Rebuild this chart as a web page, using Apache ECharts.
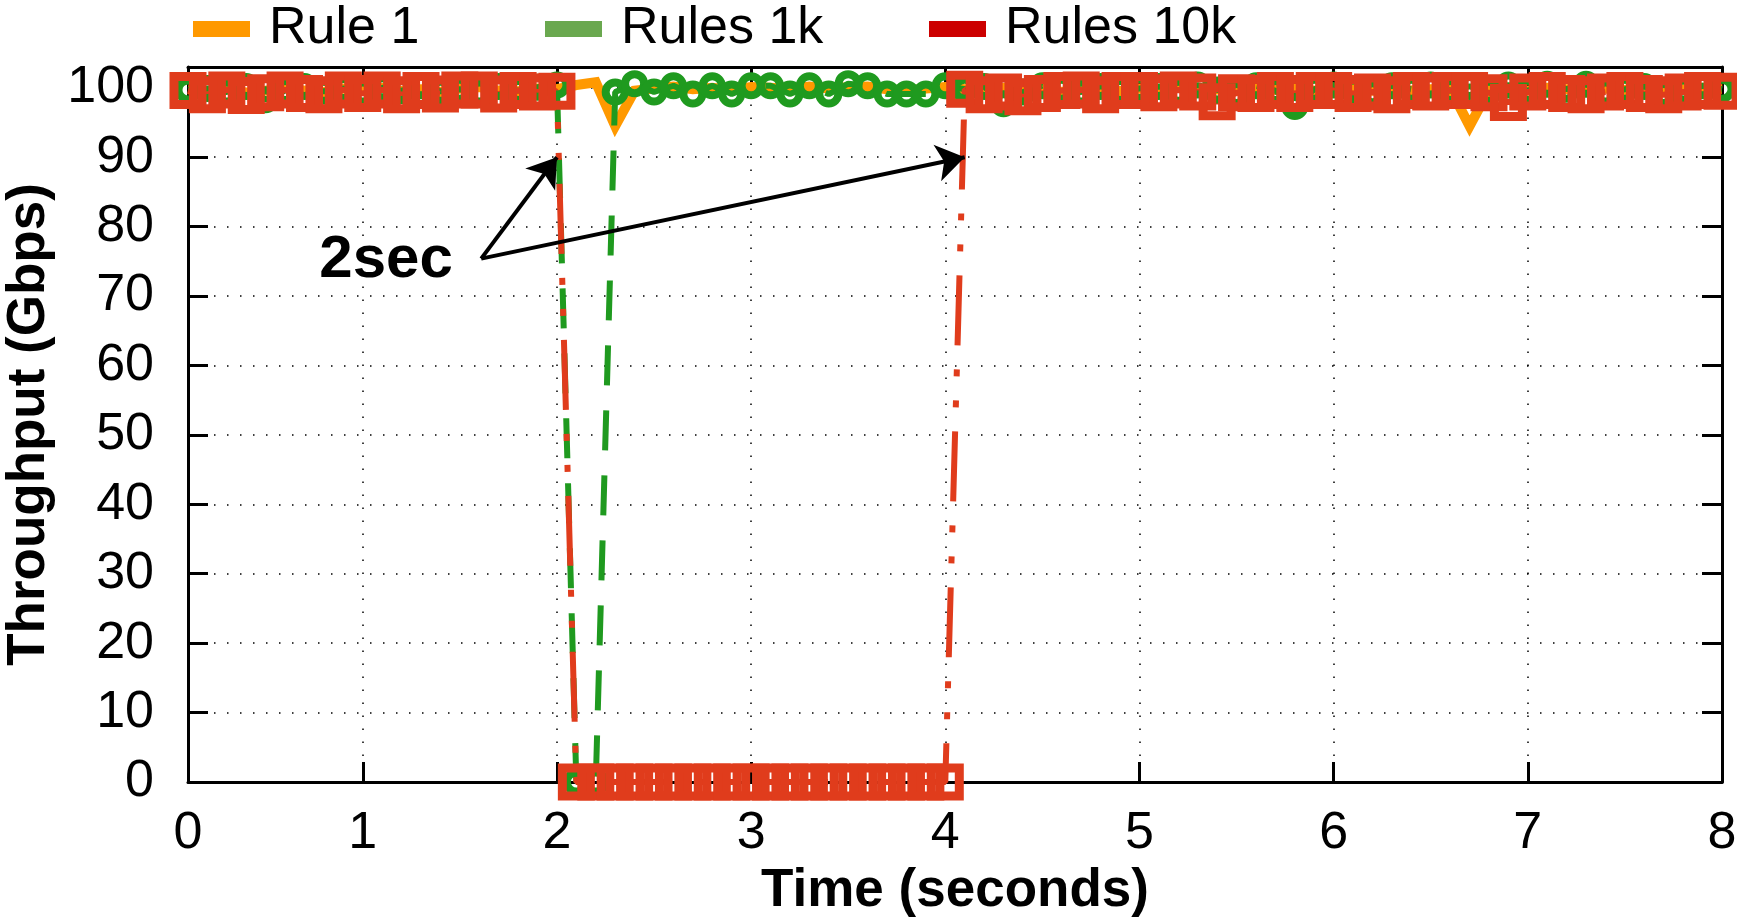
<!DOCTYPE html>
<html>
<head>
<meta charset="utf-8">
<title>Throughput during rule update</title>
<script src="https://cdn.jsdelivr.net/npm/echarts@6/dist/echarts.min.js"></script>
<style>
  html, body { margin: 0; padding: 0; background: #ffffff; }
  #chart { width: 1737px; height: 919px; }
</style>
</head>
<body>
<div id="chart"></div>
<script>
// Sample times (seconds), one sample every 100 ms
const times = [
  0.1, 0.2, 0.3, 0.4, 0.5, 0.6, 0.7, 0.8, 0.9, 1.0,
  1.1, 1.2, 1.3, 1.4, 1.5, 1.6, 1.7, 1.8, 1.9, 2.0,
  2.1, 2.2, 2.3, 2.4, 2.5, 2.6, 2.7, 2.8, 2.9, 3.0,
  3.1, 3.2, 3.3, 3.4, 3.5, 3.6, 3.7, 3.8, 3.9, 4.0,
  4.1, 4.2, 4.3, 4.4, 4.5, 4.6, 4.7, 4.8, 4.9, 5.0,
  5.1, 5.2, 5.3, 5.4, 5.5, 5.6, 5.7, 5.8, 5.9, 6.0,
  6.1, 6.2, 6.3, 6.4, 6.5, 6.6, 6.7, 6.8, 6.9, 7.0,
  7.1, 7.2, 7.3, 7.4, 7.5, 7.6, 7.7, 7.8, 7.9, 8.0
];

// Throughput (Gbps) with 1 rule installed
const rule1 = [
  99.8, 99.5, 99.9, 99.3, 99.6, 100.0, 99.6, 99.4, 99.9, 99.6,
  100.0, 99.5, 99.8, 99.4, 99.9, 100.1, 99.6, 99.5, 99.9, 99.8,
  100.4, 100.8, 94.5, 99.6, 99.9, 100.2, 99.8, 100.0, 99.7, 100.1,
  100.0, 99.8, 100.2, 99.9, 100.1, 100.2, 99.8, 99.6, 99.9, 100.1,
  99.8, 99.5, 100.0, 99.7, 99.9, 99.4, 99.8, 100.0, 99.5, 99.9,
  99.7, 100.0, 99.6, 99.8, 99.5, 100.0, 99.7, 99.9, 99.6, 99.9,
  100.1, 99.6, 99.9, 99.6, 99.8, 99.9, 94.5, 99.7, 99.9, 99.6,
  100.0, 99.8, 99.5, 99.9, 99.7, 100.0, 99.6, 99.8, 100.0, 99.8
];

// Throughput (Gbps) with 1k rules installed
const rules1k = [
  99.7, 99.9, 99.4, 100.2, 98.3, 99.6, 100.2, 99.5, 99.9, 99.4,
  100.0, 99.6, 100.3, 99.5, 99.8, 99.4, 100.2, 99.6, 100.1, 100.4,
  0, 0, 99.4, 100.6, 99.4, 100.3, 99.1, 100.3, 99.1, 100.3,
  100.3, 99.1, 100.3, 99.1, 100.6, 100.3, 99.1, 99.1, 99.1, 100.3,
  99.8, 100.2, 97.7, 99.4, 100.3, 99.8, 99.4, 100.2, 99.6, 99.9,
  100.2, 99.5, 100.4, 99.7, 99.2, 100.3, 99.6, 97.3, 99.8, 100.4,
  99.7, 99.3, 100.3, 99.8, 100.4, 99.6, 100.2, 99.5, 100.4, 99.6,
  100.5, 99.8, 100.5, 99.4, 99.8, 100.2, 99.2, 99.7, 100.3, 99.8
];

// Throughput (Gbps) with 10k rules installed
const rules10k = [
  99.6, 99.0, 99.7, 98.9, 99.3, 99.7, 99.2, 99.0, 99.7, 99.2,
  99.7, 99.0, 99.6, 99.1, 99.7, 99.7, 99.1, 99.6, 99.4, 99.5,
  0, 0, 0, 0, 0, 0, 0, 0, 0, 0,
  0, 0, 0, 0, 0, 0, 0, 0, 0, 0,
  99.8, 99.0, 99.4, 98.7, 99.2, 99.6, 99.7, 99.0, 99.6, 99.6,
  99.3, 99.7, 99.4, 98.0, 99.3, 99.2, 99.6, 99.2, 99.6, 99.6,
  99.2, 99.4, 99.0, 99.6, 99.4, 99.6, 99.6, 99.3, 97.9, 99.4,
  99.6, 99.2, 99.0, 99.4, 99.6, 99.2, 99.0, 99.4, 99.6, 99.5
];

// Axis ticks
const xTickValues = [0.1, 1, 2, 3, 4, 5, 6, 7, 8];
const xTickLabels = ['0', '1', '2', '3', '4', '5', '6', '7', '8'];
const xGridValues = [1, 2, 3, 4, 5, 6, 7];

const seriesNames = ['Rule 1', 'Rules 1k', 'Rules 10k'];

// Annotation: outage length
const noteText = '2sec';
const notePos = [1.12, 75.1];
const arrowTail = [1.61, 75.4];
const arrowHeads = [[2.0, 90], [4.1, 90]];

const FONT = '"Liberation Sans", Arial, Helvetica, sans-serif';
const BLACK = '#000000';
const CLEAR = 'rgba(255,255,255,0)';
const lineColors = ['#ff9900', '#1f9a1f', '#e03c1c'];
const legendColors = ['#ff9900', '#6aa84f', '#cc0000'];
const legendLefts = [193, 545, 929];

const pairs = (vals) => times.map((t, i) => [t, vals[i]]);

const gridDots = { color: BLACK, width: 1.5, type: [1.5, 11.5] };
const Y_MAX = 103;

const chart = echarts.init(document.getElementById('chart'), null, { renderer: 'canvas' });

const option = {
  animation: false,
  backgroundColor: '#ffffff',
  textStyle: { fontFamily: FONT, color: BLACK },
  grid: {
    left: 188, right: 15, top: 67, bottom: 137,
    containLabel: false,
    outerBoundsMode: 'none'
  },
  legend: seriesNames.map((name, i) => ({
    data: [{ name: name, itemStyle: { color: legendColors[i], borderWidth: 0 } }],
    left: legendLefts[i],
    top: 3,
    padding: 0,
    icon: 'rect',
    itemWidth: 57,
    itemHeight: 16,
    selectedMode: false,
    textStyle: { fontSize: 52, fontFamily: FONT, color: BLACK, padding: [0, 0, 0, 14] }
  })),
  xAxis: [
    {
      type: 'value',
      position: 'bottom',
      min: 0.1,
      max: 8,
      z: 3,
      name: 'Time (seconds)',
      nameLocation: 'middle',
      nameGap: 77,
      nameTextStyle: { fontSize: 53, fontWeight: 'bold', fontFamily: FONT, color: BLACK },
      axisLine: { show: true, onZero: false, lineStyle: { color: BLACK, width: 3 } },
      axisTick: { show: true, inside: true, length: 20, customValues: xGridValues, lineStyle: { color: BLACK, width: 3 } },
      axisLabel: {
        show: true, margin: 26, fontSize: 52, fontFamily: FONT, color: BLACK,
        customValues: xTickValues,
        formatter: (v) => {
          const k = xTickValues.findIndex((t) => Math.abs(t - v) < 1e-6);
          return k >= 0 ? xTickLabels[k] : '';
        }
      },
      splitLine: { show: false }
    },
    {
      type: 'value',
      position: 'top',
      min: 0.1,
      max: 8,
      z: 3,
      axisLine: { show: true, onZero: false, lineStyle: { color: BLACK, width: 3 } },
      axisTick: { show: true, inside: true, length: 20, customValues: xGridValues, lineStyle: { color: BLACK, width: 3 } },
      axisLabel: { show: false },
      splitLine: { show: false }
    }
  ],
  yAxis: [
    {
      type: 'value',
      position: 'left',
      min: 0,
      max: Y_MAX,
      interval: 10,
      z: 3,
      name: 'Throughput (Gbps)',
      nameLocation: 'middle',
      nameGap: 122,
      nameTextStyle: { fontSize: 53, fontWeight: 'bold', fontFamily: FONT, color: BLACK },
      axisLine: { show: true, onZero: false, lineStyle: { color: BLACK, width: 3 } },
      axisTick: { show: true, inside: true, length: 20, lineStyle: { color: BLACK, width: 3 } },
      axisLabel: { margin: 34, fontSize: 52, fontFamily: FONT, color: BLACK, showMaxLabel: false, showMinLabel: true },
      splitLine: { show: true, lineStyle: gridDots }
    },
    {
      type: 'value',
      position: 'right',
      min: 0,
      max: Y_MAX,
      interval: 10,
      z: 3,
      axisLine: { show: true, onZero: false, lineStyle: { color: BLACK, width: 3 } },
      axisTick: { show: true, inside: true, length: 20, lineStyle: { color: BLACK, width: 3 } },
      axisLabel: { show: false },
      splitLine: { show: false }
    }
  ],
  series: [
    {
      name: seriesNames[0],
      type: 'line',
      data: pairs(rule1),
      xAxisIndex: 0,
      yAxisIndex: 0,
      clip: false,
      symbol: 'none',
      showSymbol: false,
      itemStyle: { color: lineColors[0] },
      lineStyle: { color: lineColors[0], width: 10, type: 'solid', join: 'miter', miterLimit: 10 },
      emphasis: { disabled: true },
      markLine: {
        silent: true,
        z: 3,
        symbol: 'none',
        label: { show: false },
        emphasis: { disabled: true },
        lineStyle: gridDots,
        data: xGridValues.map((v) => ({ xAxis: v }))
      }
    },
    {
      name: seriesNames[1],
      type: 'line',
      data: pairs(rules1k),
      xAxisIndex: 0,
      yAxisIndex: 0,
      clip: false,
      symbol: 'circle',
      symbolSize: 19,
      showSymbol: true,
      itemStyle: { color: CLEAR, borderColor: lineColors[1], borderWidth: 8 },
      lineStyle: { color: lineColors[1], width: 6, type: [40, 25] },
      emphasis: { disabled: true }
    },
    {
      name: seriesNames[2],
      type: 'line',
      data: pairs(rules10k),
      xAxisIndex: 0,
      yAxisIndex: 0,
      clip: false,
      symbol: 'rect',
      symbolSize: 28,
      showSymbol: true,
      itemStyle: { color: CLEAR, borderColor: lineColors[2], borderWidth: 9 },
      lineStyle: { color: lineColors[2], width: 6, type: [70, 24, 7, 24, 7, 24] },
      emphasis: { disabled: true }
    },
    {
      // arrows and note for the outage window
      name: 'note',
      type: 'line',
      data: [],
      xAxisIndex: 0,
      yAxisIndex: 0,
      symbol: 'none',
      itemStyle: { color: BLACK },
      lineStyle: { color: BLACK },
      emphasis: { disabled: true },
      markLine: {
        silent: true,
        z: 6,
        symbol: ['none', 'arrow'],
        symbolSize: 28,
        label: { show: false },
        emphasis: { disabled: true },
        lineStyle: { color: BLACK, width: 4, type: 'solid', opacity: 1 },
        itemStyle: { color: BLACK },
        data: arrowHeads.map((h) => [
          { coord: arrowTail, symbol: 'none', itemStyle: { color: BLACK } },
          { coord: h, symbol: 'arrow', symbolSize: 28, itemStyle: { color: BLACK } }
        ])
      },
      markPoint: {
        silent: true,
        z: 6,
        symbol: 'rect',
        symbolSize: 1,
        itemStyle: { color: CLEAR },
        label: {
          show: true,
          position: 'inside',
          formatter: noteText,
          fontSize: 60,
          fontWeight: 'bold',
          fontFamily: FONT,
          color: BLACK
        },
        emphasis: { disabled: true },
        data: [{ coord: notePos, value: noteText }]
      }
    }
  ]
};

chart.setOption(option);
</script>
</body>
</html>
